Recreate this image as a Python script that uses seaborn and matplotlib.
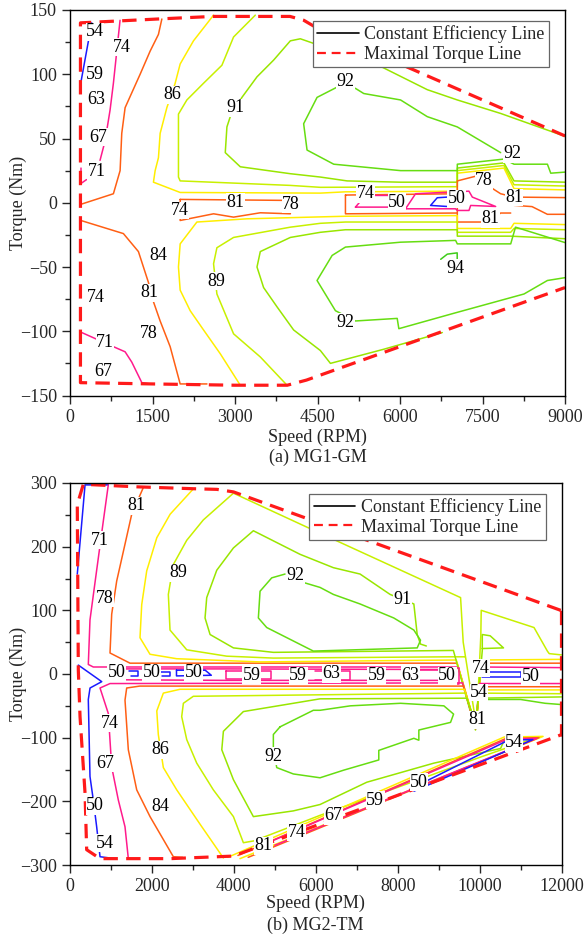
import matplotlib
matplotlib.use("Agg")
import matplotlib.pyplot as plt
from matplotlib.lines import Line2D
from matplotlib.ticker import MultipleLocator
import seaborn as sns

sns.set_style("ticks")
plt.rcParams["font.family"] = ["Liberation Serif", "DejaVu Serif"]
plt.rcParams["mathtext.fontset"] = "stix"

# ---------------------------------------------------------------- colours
BLUE = "#1a1aff"
PINK = "#ff1a8c"
ORANGE = "#ff5f14"
YELLOW = "#ffee00"
YGREEN = "#c8f000"
LGREEN = "#99e600"
GREEN = "#66dd11"
DGREEN = "#3fcc1a"
RED = "#ff1a1a"

# ================================================================ MG1-GM
# maximal torque boundary (speed rpm, torque Nm)
gm_max = [(9000, 52), (4450, 137), (4250, 142), (4000, 145), (2600, 145), (1600, 143),
          (190, 140), (190, -140), (1500, -141), (3000, -142), (3950, -142),
          (4300, -138), (9000, -66)]

gm_54 = [(395, 140), (195, 93)]
gm_74_up = [(910, 142), (789, 93), (728, 72), (637, 48), (546, 33)]
gm_71_up = [(200, 27), (200, 15), (300, 18)]
gm_84_up = [(1670, 143), (1608, 131), (1457, 118), (1275, 100), (1002, 74), (941, 54),
            (911, 25), (789, 7), (213, -1)]
gm_86_up = [(2610, 146), (2245, 126), (2003, 108), (1912, 93), (1761, 74), (1639, 54),
            (1608, 35), (1548, 25), (1517, 16), (2003, 8), (4552, 7.5), (5008, 8.5),
            (7042, 9), (7042, 23), (7890, 27), (8073, 11), (9000, 10)]
gm_89_up = [(3369, 146), (2974, 129), (2762, 107), (2428, 93), (2125, 80), (1972, 69),
            (1972, 46), (1972, 20), (2003, 17), (4006, 13.5), (4552, 12), (7042, 12.5),
            (7042, 25), (7890, 29), (8073, 14), (9000, 13)]
gm_91_up = [(9045, 51), (7830, 69.5), (7042, 80), (6496, 88), (5676, 105.5), (4188, 127.6),
            (4006, 126), (3702, 111), (3400, 98), (3126, 82), (2914, 67), (2853, 59),
            (2823, 39), (3096, 28), (4006, 22.6), (4552, 20), (5038, 17), (6010, 16),
            (7042, 16), (7042, 27), (7890, 31), (8073, 17), (9000, 16)]
gm_92_up = [(7830, 39), (7042, 59), (6496, 67), (6010, 80), (5341, 85), (5190, 89),
            (4857, 90), (4492, 82), (4248, 61.5), (4310, 41), (4795, 30), (6010, 25),
            (7042, 25), (7042, 30), (7890, 34), (8073, 30), (8680, 30), (8741, 23),
            (9045, 24)]
gm_78_right = [(7042, 6), (7042, 17), (7407, 21), (7648, 12), (7830, 7), (8073, 4.4),
               (9000, 4)]
gm_81_right = [(7042, -8), (7042, -15), (7600, -15), (7830, -8), (8013, -8)]
gm_81_far = [(8073, -2), (8400, -3), (8680, -9), (9000, -9)]
gm_box_a = [(2003, 2.6), (4006, 1.8), (4006, -8.6), (3460, -7.8), (2974, -11.2),
            (2610, -8.6), (2003, -13.8), (2003, 2.6)]
gm_box_b = [(5008, 6), (7042, 7), (7042, -8), (5008, -8.6), (5008, 6)]
gm_pink_a = [(5190, -3.4), (5372, 5.7), (6010, 5.7), (6010, -3.4), (5190, -3.4)]
gm_pink_b = [(6101, -4.7), (6283, 7), (7254, 9), (7315, 4.4), (7739, -2.9), (7285, -2.1),
             (7254, -6), (7042, -6), (7011, -4.7), (6101, -4.7)]
gm_50 = [(6859, 4.4), (6677, 3.9), (6556, -2.1), (6859, -2.9)]
gm_81_low = [(213, -14), (971, -24), (1244, -38), (1426, -62), (1517, -77), (1639, -92),
             (1821, -112), (2003, -141), (2490, -141)]
gm_71_low = [(213, -101), (789, -112), (1002, -116), (1123, -124), (1306, -140), (1457, -141)]
gm_86_low = [(3096, -142), (2732, -117.5), (2428, -99), (2185, -84), (2003, -68), (1972, -50),
             (2003, -32), (2307, -15), (3218, -12.5), (4552, -11), (5008, -10.5),
             (7042, -10), (7042, -20), (8013, -20), (8073, -16), (9000, -17)]
gm_89_low = [(3946, -142), (3460, -120), (2974, -102), (2671, -71), (2610, -47.5),
             (2671, -35), (2974, -27), (4006, -19), (4552, -16), (5008, -15), (7042, -15),
             (7042, -23), (8013, -23), (8073, -20), (9000, -21)]
gm_91_low = [(6769, -101), (5705, -114), (4735, -125), (4552, -115), (4066, -99), (3764, -81),
             (3520, -66), (3400, -50), (3460, -38), (4006, -27), (4552, -23), (5008, -21),
             (7042, -21), (7042, -26), (8013, -26), (9000, -28)]
gm_92_low = [(9045, -58), (8680, -60.5), (8255, -71), (6980, -86), (5979, -98), (5949, -90),
             (5190, -92), (4826, -84), (4492, -60.5), (4766, -41), (5008, -34.5),
             (6010, -30.7), (7011, -29.3), (7042, -32), (8013, -32), (8100, -19), (9000, -31)]
gm_94 = [(6740, -44), (6860, -40), (7040, -39), (7040, -45)]

gm_lines = [
    (gm_54, BLUE), (gm_74_up, PINK), (gm_71_up, PINK), (gm_84_up, ORANGE),
    (gm_86_up, YELLOW), (gm_89_up, YGREEN), (gm_91_up, LGREEN), (gm_92_up, GREEN),
    (gm_78_right, ORANGE), (gm_81_right, ORANGE), (gm_81_far, ORANGE),
    (gm_box_a, ORANGE), (gm_box_b, ORANGE), (gm_pink_a, PINK), (gm_pink_b, PINK),
    (gm_50, BLUE), (gm_81_low, ORANGE), (gm_71_low, PINK), (gm_86_low, YELLOW),
    (gm_89_low, YGREEN), (gm_91_low, LGREEN), (gm_92_low, GREEN), (gm_94, DGREEN),
]

gm_labels = [
    ("54", 455, 133), ("74", 941, 121), ("59", 455, 100), ("63", 486, 80), ("67", 516, 51),
    ("71", 486, 24), ("86", 1852, 84), ("91", 3005, 74), ("92", 5008, 94), ("92", 8043, 38),
    ("78", 7527, 17), ("81", 8073, 4), ("81", 7648, -12.5), ("74", 5372, 7), ("50", 5949, 0.5),
    ("50", 7030, 3), ("74", 2003, -6), ("81", 3005, 0.5), ("78", 4019, -1.3), ("84", 1609, -41),
    ("81", 1444, -70), ("89", 2659, -61), ("74", 473, -73.5), ("78", 1426, -101.5),
    ("71", 637, -109), ("67", 607, -131), ("94", 7011, -51), ("92", 5008, -93),
]

# ================================================================ MG2-TM
tm_max = [(11981, 100), (3993, 286), (3587, 290), (3015, 291), (1630, 294), (325, 298),
          (178, 266), (203, 6), (245, -67), (367, -187), (407, -276), (733, -290),
          (2445, -290), (3990, -286), (11970, -96), (12000, -96), (12000, 100)]

tm_blue_up = [(935, 297), (367, 297), (178, 157)]
tm_71 = [(935, 297), (813, 240), (651, 163), (488, 85), (447, 15), (569, 11), (9480, 11),
         (9905, -86), (10030, 11), (12000, 10)]
tm_81 = [(1791, 293), (1507, 251), (1343, 204), (1140, 146), (1018, 94), (977, 33),
         (1465, 17), (9450, 17), (9910, -85), (10040, 17), (12000, 17)]
tm_86_up = [(3015, 291), (2445, 251), (2119, 214), (1873, 162), (1751, 109), (1709, 57),
            (1953, 31), (2605, 24), (4646, 19), (9430, 22), (9915, -84), (10050, 22),
            (12000, 23)]
tm_89_up = [(12000, 30), (11700, 32), (11655, 36), (11329, 73), (10040, 100), (10030, 60),
            (9925, -83), (9600, 50), (9536, 120), (5941, 226), (3990, 284), (3255, 242),
            (2850, 210), (2523, 172), (2401, 125), (2442, 69), (2850, 38), (3827, 28),
            (4965, 25), (9300, 27), (9640, 27)]
tm_91_up = [(8700, 44), (8558, 47), (8477, 62), (8395, 110), (7815, 125), (7082, 157),
            (6430, 167), (5616, 188), (4477, 225), (3990, 198), (3583, 163), (3338, 120),
            (3297, 88), (3420, 62), (3990, 41), (4965, 34), (9360, 37), (9900, -88),
            (10066, 37), (10066, 62), (10259, 60), (10584, 41), (10066, 40)]
tm_92_up = [(5250, 157), (4925, 151), (4640, 130), (4599, 88), (4803, 73), (5941, 36),
            (8477, 41), (8558, 53), (8395, 69), (7905, 88), (7082, 110), (6430, 125),
            (6105, 136), (5739, 143)]
tm_blue_low = [(203, 14), (489, 1), (775, -12), (489, -22), (447, -40), (488, -161),
               (569, -198), (651, -240), (733, -287), (1099, -290)]
tm_74 = [(12000, -15), (10000, -15), (9905, -86), (9585, -14), (977, -15), (733, -22),
         (935, -62), (1018, -146), (1180, -198), (1343, -240), (1424, -290)]
tm_84 = [(12000, -20), (9985, -20), (9910, -85), (9605, -19), (1700, -19), (1384, -22),
         (1343, -41), (1424, -119), (1629, -182), (1954, -224), (2523, -287), (2750, -288)]
tm_86_low = [(12000, -25), (9980, -25), (9915, -84), (9630, -24), (2687, -24), (2279, -30),
             (2119, -58), (2156, -95), (2279, -147), (2606, -182), (3176, -236), (3745, -289)]
tm_89_low = [(12000, -31), (9970, -30), (9920, -83), (9650, -30), (3011, -35), (2768, -46),
             (2727, -67), (2850, -103), (3094, -140), (3500, -182), (3990, -224),
             (4233, -265), (4500, -262), (6105, -222), (8000, -178), (10000, -131),
             (11200, -104)]
tm_91_low = [(12000, -36), (9960, -38), (9920, -84), (9690, -38), (6105, -39), (5453, -46),
             (4233, -59), (3745, -90), (3706, -119), (3990, -166), (4477, -224),
             (5453, -215), (6105, -205), (7246, -170), (8884, -140), (10513, -117),
             (10594, -105)]
tm_92_low = [(5128, -83), (4965, -95), (4965, -115), (5047, -147), (5453, -157),
             (6105, -163), (6684, -151), (7539, -135), (7539, -120), (8395, -101),
             (8517, -104), (8517, -88), (9291, -76), (9365, -63), (9128, -50),
             (8069, -46), (6846, -50), (6105, -57), (5941, -57), (5128, -83)]
tm_92_right = [(12000, -48), (11600, -46), (11000, -40), (10080, -40)]
tm_wedge_yellow = [(3850, -288), (10600, -99), (11550, -98), (4150, -290)]
tm_wedge_orange = [(4100, -285), (10650, -101), (11450, -100), (4350, -288)]
tm_wedge_pink = [(4800, -266), (10650, -103), (11400, -101), (5000, -269)]
tm_wedge_blue = [(8300, -181), (10700, -104), (11300, -103), (8400, -184)]
tm_band_pink_up = [(977, 8), (3800, 8), (9300, 7)]
tm_band_pink_low = [(977, -9), (3800, -10), (9300, -10)]
tm_box_59a = [(3800, 5), (4900, 5), (4900, -8), (3800, -8), (3800, 5)]
tm_box_63a = [(5990, 4), (6846, 4), (6846, -9), (5990, -9)]
tm_box_63b = [(8112, 6), (9060, 6), (9060, -9)]
tm_box_50 = [(9100, 10), (9500, 10), (9500, -16), (9100, -16), (9100, 10)]
tm_blue_b1 = [(1450, 5), (1650, 5), (1650, -3), (1500, -3)]
tm_blue_b2 = [(2200, 3), (2450, 3), (2450, -3), (2250, -3)]
tm_blue_b3 = [(2600, 6), (3300, 6), (3450, -2), (2600, -3), (2600, 6)]
tm_blue_b4 = [(10030, 3), (11000, 3), (11000, -5), (10050, -5)]

tm_lines = [
    (tm_blue_up, BLUE), (tm_71, PINK), (tm_81, ORANGE), (tm_86_up, YELLOW),
    (tm_89_up, YGREEN), (tm_91_up, LGREEN), (tm_92_up, GREEN), (tm_blue_low, BLUE),
    (tm_74, PINK), (tm_84, ORANGE), (tm_86_low, YELLOW), (tm_89_low, YGREEN),
    (tm_91_low, LGREEN), (tm_92_low, GREEN), (tm_92_right, GREEN),
    (tm_wedge_yellow, YELLOW), (tm_wedge_orange, ORANGE), (tm_wedge_pink, PINK),
    (tm_wedge_blue, BLUE), (tm_band_pink_up, PINK), (tm_band_pink_low, PINK),
    (tm_box_59a, PINK), (tm_box_63a, PINK), (tm_box_63b, PINK), (tm_box_50, PINK),
    (tm_blue_b1, BLUE), (tm_blue_b2, BLUE), (tm_blue_b3, BLUE), (tm_blue_b4, BLUE),
]

tm_labels = [
    ("81", 1629, 264), ("71", 733, 210), ("78", 855, 119), ("89", 2645, 159),
    ("92", 5502, 154), ("91", 8111, 117), ("50", 1140, 2), ("50", 1995, 2), ("50", 3011, 2),
    ("59", 4437, -2), ("59", 5575, -3), ("63", 6390, 0), ("59", 7490, -3), ("63", 8314, -2),
    ("50", 9210, -3), ("74", 10025, 9), ("50", 11247, -4), ("54", 9983, -29), ("81", 9943, -72),
    ("74", 977, -77), ("67", 855, -140), ("50", 611, -207), ("54", 855, -266), ("86", 2198, -119),
    ("84", 2198, -208), ("92", 4965, -129), ("81", 4721, -270), ("74", 5535, -249),
    ("67", 6430, -223), ("59", 7452, -198), ("50", 8517, -170), ("54", 10838, -108),
]

FS = 13


def draw_path(ax, pts, color, lw=1.1, **kw):
    sns.lineplot(x=[p[0] for p in pts], y=[p[1] for p in pts], sort=False,
                 estimator=None, color=color, linewidth=lw, ax=ax, legend=False, **kw)


def panel(ax, lines, labels, boundary, xmax, xstep, ymax, ystep, xlabel_y):
    for pts, col in lines:
        draw_path(ax, pts, col)
    draw_path(ax, boundary, RED, lw=2.3, linestyle=(0, (4.5, 2.6)))
    for txt, x, y in labels:
        ax.text(x, y, txt, ha="center", va="center", fontsize=FS, color="black",
                zorder=6, bbox=dict(facecolor="white", edgecolor="none", pad=0.2))
    ax.set_xlim(0, xmax)
    ax.set_ylim(-ymax, ymax)
    ax.xaxis.set_major_locator(MultipleLocator(xstep))
    ax.xaxis.set_minor_locator(MultipleLocator(xstep / 2))
    ax.yaxis.set_major_locator(MultipleLocator(ystep))
    ax.yaxis.set_minor_locator(MultipleLocator(ystep / 2))
    ax.tick_params(which="major", direction="out", length=6, width=1, labelsize=FS, pad=3.5)
    ax.tick_params(which="minor", direction="out", length=3.5, width=1)
    for s in ax.spines.values():
        s.set_linewidth(1.0)
        s.set_color("black")
    ax.set_xlabel("Speed (RPM)", fontsize=FS)
    ax.set_ylabel("Torque (Nm)", fontsize=FS)
    ax.xaxis.set_label_coords(0.5, xlabel_y)
    ax.yaxis.set_label_coords(-0.087, 0.5)
    handles = [Line2D([], [], color="black", lw=1.2),
               Line2D([], [], color=RED, lw=1.6, linestyle=(0, (4, 2.6)))]
    leg = ax.legend(handles, ["Constant Efficiency Line", "Maximal Torque Line"],
                    loc="upper right", bbox_to_anchor=(0.968, 0.972), borderaxespad=0,
                    fontsize=FS, frameon=True, fancybox=False, framealpha=1,
                    edgecolor="#666666", handlelength=2.3, handletextpad=0.3,
                    borderpad=0.25, labelspacing=0.15)
    leg.get_frame().set_linewidth(0.9)
    leg.set_zorder(10)


fig = plt.figure(figsize=(5.84, 9.43), dpi=100)
ax1 = fig.add_axes([70 / 584, 1 - 395.5 / 943, 495 / 584, 385.5 / 943])
ax2 = fig.add_axes([70 / 584, 1 - 865 / 943, 491.5 / 584, 382 / 943])

panel(ax1, gm_lines, gm_labels, gm_max, 9000, 1500, 150, 50, -0.085)
panel(ax2, tm_lines, tm_labels, tm_max, 12000, 2000, 300, 100, -0.078)

fig.text(317.5 / 584, 1 - 457 / 943, "(a) MG1-GM", ha="center", va="center", fontsize=FS)
fig.text(315.7 / 584, 1 - 925 / 943, "(b) MG2-TM", ha="center", va="center", fontsize=FS)

fig.savefig("out.png", dpi=100)
